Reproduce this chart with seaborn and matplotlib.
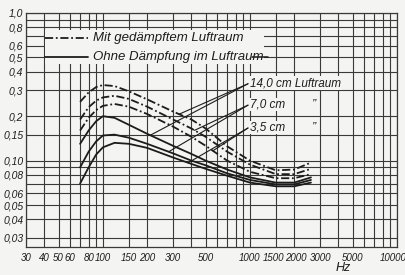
import numpy as np
import pandas as pd
import seaborn as sns
import matplotlib.pyplot as plt
import matplotlib.transforms as mtransforms
from matplotlib.ticker import FixedLocator, FixedFormatter, NullLocator
from matplotlib.patches import Rectangle

freqs = [70, 80, 90, 100, 120, 150, 200, 300, 400, 500, 700, 1000, 1500, 2000, 2600]

# Mit gedämpftem Luftraum (dash-dot): 14,0 / 7,0 / 3,5 cm
mit_140 = [0.25, 0.29, 0.315, 0.325, 0.32, 0.295, 0.26, 0.215, 0.19, 0.165, 0.125, 0.10, 0.086, 0.087, 0.097]
mit_70 = [0.19, 0.23, 0.255, 0.268, 0.275, 0.262, 0.232, 0.19, 0.165, 0.145, 0.115, 0.094, 0.081, 0.081, 0.088]
mit_35 = [0.16, 0.195, 0.22, 0.235, 0.242, 0.232, 0.207, 0.17, 0.145, 0.126, 0.10, 0.084, 0.076, 0.076, 0.081]

# Ohne Dämpfung im Luftraum (solid)
ohne_140 = [0.13, 0.16, 0.185, 0.20, 0.195, 0.175, 0.152, 0.126, 0.111, 0.10, 0.087, 0.077, 0.071, 0.071, 0.077]
ohne_70 = [0.09, 0.115, 0.135, 0.148, 0.15, 0.143, 0.13, 0.112, 0.10, 0.093, 0.082, 0.074, 0.069, 0.069, 0.074]
ohne_35 = [0.07, 0.09, 0.11, 0.123, 0.132, 0.13, 0.122, 0.105, 0.095, 0.088, 0.079, 0.071, 0.067, 0.067, 0.071]

xticks = [30, 40, 50, 60, 80, 100, 150, 200, 300, 500, 1000, 1500, 2000, 3000, 5000, 10000]
xgrid = [30, 40, 50, 60, 70, 80, 90, 100, 150, 200, 300, 400, 500, 600, 700, 800, 900,
         1000, 1500, 2000, 3000, 4000, 5000, 6000, 7000, 8000, 9000, 10000]
yticks = [1.0, 0.8, 0.6, 0.5, 0.4, 0.3, 0.2, 0.15, 0.10, 0.08, 0.06, 0.05, 0.04, 0.03]
ylabels = ['1,0', '0,8', '0,6', '0,5', '0,4', '0,3', '0,2', '0,15', '0,10', '0,08', '0,06', '0,05', '0,04', '0,03']
ygrid = [0.03, 0.04, 0.05, 0.06, 0.07, 0.08, 0.09, 0.10, 0.15, 0.2, 0.3, 0.4, 0.5, 0.6, 0.7, 0.8, 0.9, 1.0]

sns.set_style('white')
plt.rcParams['font.family'] = ['Liberation Sans', 'DejaVu Sans']
plt.rcParams['font.style'] = 'italic'

paper = '#f4f4f2'
ink = '#1c1c1c'

fig = plt.figure(figsize=(4.06, 2.75), dpi=100, facecolor=paper)
ax = fig.add_axes([26 / 406, 1 - 247 / 275, 371 / 406, 234 / 275])
ax.set_facecolor(paper)
ax.set_xscale('log')
ax.set_yscale('log')
ax.set_xlim(30, 10000)
ax.set_ylim(0.026, 1.0)

for v in xgrid:
    ax.axvline(v, color='#3a3a3a', lw=0.8, zorder=1)
for v in ygrid:
    ax.axhline(v, color='#3a3a3a', lw=0.8, zorder=1)

dashdot = (4.5, 1.5, 1.0, 1.5)
series = [(mit_140, dashdot), (mit_70, dashdot), (mit_35, dashdot),
          (ohne_140, None), (ohne_70, None), (ohne_35, None)]
for vals, dash in series:
    df = pd.DataFrame({'f': freqs, 'v': vals})
    sns.lineplot(data=df, x='f', y='v', ax=ax, color=ink, lw=1.3, zorder=3)
    if dash:
        ax.lines[-1].set_dashes(dash)

ax.xaxis.set_major_locator(FixedLocator(xticks))
ax.xaxis.set_major_formatter(FixedFormatter([str(t) for t in xticks]))
ax.xaxis.set_minor_locator(NullLocator())
ax.yaxis.set_major_locator(FixedLocator(yticks))
ax.yaxis.set_major_formatter(FixedFormatter(ylabels))
ax.yaxis.set_minor_locator(NullLocator())
ax.tick_params(axis='x', length=0, labelsize=7, colors=ink, pad=4)
ax.tick_params(axis='y', length=0, labelsize=7.5, colors=ink, pad=2)
ax.set_xlabel('')
ax.set_ylabel('')
for s in ax.spines.values():
    s.set_color('#3a3a3a')
    s.set_linewidth(0.9)

# nudge crowded x labels apart a little
nudge = {'1500': -2.5, '2000': 2.0, '10000': -4.0}
for lab in ax.get_xticklabels():
    dx = nudge.get(lab.get_text(), 0)
    if dx:
        lab.set_transform(lab.get_transform() + mtransforms.ScaledTranslation(dx / 100, 0, fig.dpi_scale_trans))

# legend block (blank box over the grid)
ax.add_patch(Rectangle((40.5, 0.45), 1250 - 40.5, 0.77 - 0.45, facecolor=paper,
                       edgecolor='none', zorder=2))
ax.plot([40.5, 79], [0.68, 0.68], color=ink, lw=1.3, dashes=dashdot, zorder=4)
ax.text(86, 0.68, 'Mit gedämpftem Luftraum', fontsize=9.5, va='center', ha='left', color=ink, zorder=4)
ax.plot([40.5, 79], [0.505, 0.505], color=ink, lw=1.3, zorder=4)
ax.text(86, 0.505, 'Ohne Dämpfung im Luftraum', fontsize=9.5, va='center', ha='left', color=ink, zorder=4)
ax.plot([1030, 1330], [0.505, 0.505], color=ink, lw=1.1, zorder=4)

# curve labels with leader lines
labels = [('14,0 cm Luftraum', 0.335, mit_140, 330, ohne_140, 210, ''),
          ('7,0 cm', 0.24, mit_70, 420, ohne_70, 280, '\u201d'),
          ('3,5 cm', 0.168, mit_35, 560, ohne_35, 380, '\u201d')]
for txt, yv, dvals, fd, svals, fs, ditto in labels:
    ax.text(1000, yv, txt, fontsize=8.5, va='center', ha='left', color=ink, zorder=4,
            bbox=dict(facecolor=paper, edgecolor='none', pad=0.5))
    if ditto:
        ax.text(2600, yv, ditto, fontsize=9, va='center', ha='left', color=ink, zorder=4)
    for fx, vals in ((fd, dvals), (fs, svals)):
        yy = np.exp(np.interp(np.log(fx), np.log(freqs), np.log(vals)))
        ax.plot([fx, 970], [yy, yv * 0.99], color=ink, lw=0.8, zorder=3)

ax.text(4300, 0.0186, 'Hz', fontsize=9, ha='center', va='center', color=ink)

fig.savefig('out.png', dpi=100, facecolor=paper)
